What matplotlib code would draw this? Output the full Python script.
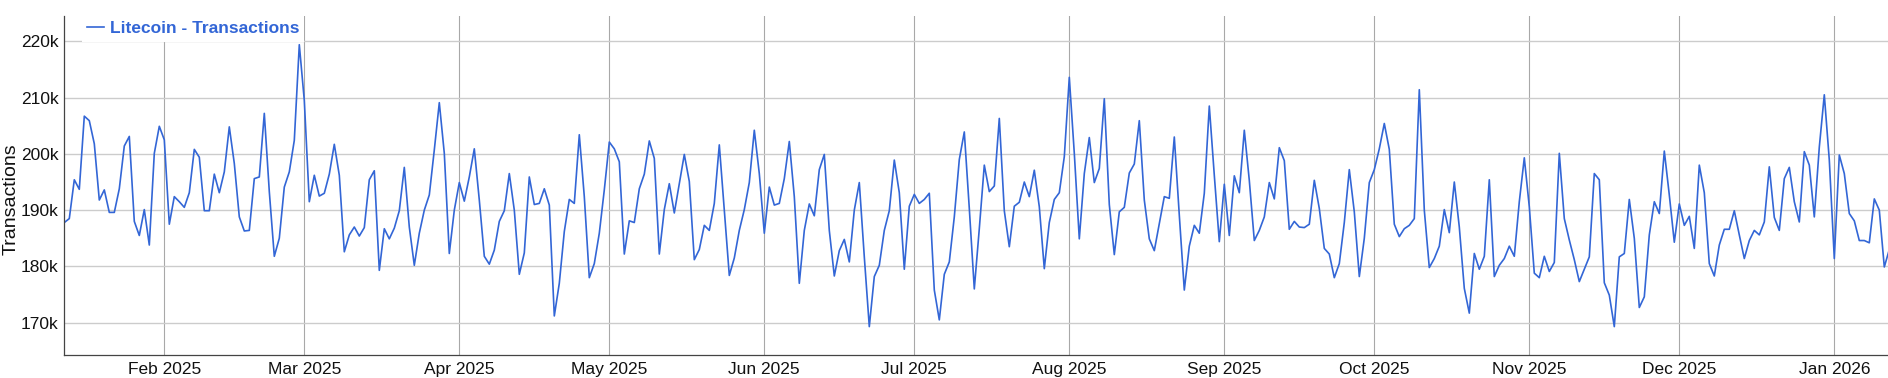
import numpy as np
import pandas as pd
import matplotlib
matplotlib.use("Agg")
import matplotlib.pyplot as plt
import matplotlib.dates as mdates

plt.rcParams['font.family'] = ['Liberation Sans', 'DejaVu Sans']

# daily Litecoin transactions (thousands), 12 Jan 2025 .. 12 Jan 2026
tx_k = [
    187.8, 188.5, 195.4, 193.7, 206.7, 205.9, 201.8, 191.8, 193.6, 189.6,
    189.6, 193.8, 201.4, 203.1, 188.0, 185.5, 190.1, 183.8, 200.1, 204.9,
    202.5, 187.5, 192.4, 191.5, 190.5, 193.1, 200.8, 199.4, 189.9, 189.9,
    196.4, 193.1,
    196.8, 204.8, 198.3, 188.8, 186.3, 186.4, 195.6, 195.9, 207.2, 193.3,
    181.8, 185.0, 194.1, 196.8, 202.4, 219.4, 209.5, 191.5, 196.2, 192.5,
    193.0, 196.4, 201.7, 196.2, 182.6, 185.6, 187.0, 185.4,
    186.9, 195.4, 197.0, 179.3, 186.7, 184.9, 186.8, 189.9, 197.6, 187.0,
    180.2, 185.9, 190.0, 192.7, 200.7, 209.1, 200.1, 182.3, 190.0, 194.9,
    191.6, 195.9, 200.9, 191.8, 181.8, 180.4, 182.9, 188.0, 189.9, 196.5,
    190.0, 178.6, 182.4, 195.9, 191.0, 191.2, 193.8, 190.9, 171.2, 177.0,
    186.2, 191.9, 191.2, 203.4, 192.4, 178.0, 180.5, 185.9, 193.6, 202.1,
    200.9, 198.6, 182.2, 188.1, 187.8, 193.8, 196.4, 202.3, 199.2, 182.2,
    190.1, 194.7, 189.5, 194.7, 199.9, 195.1, 181.2, 183.0, 187.3, 186.4,
    191.2, 201.6, 190.0, 178.4, 181.5, 186.4, 190.1, 194.9, 204.2, 196.5,
    185.9, 194.1, 190.9, 191.2, 195.6, 202.2, 192.4, 177.0, 186.4, 191.1,
    189.0, 197.2, 199.9, 186.4, 178.3, 182.8, 184.8, 180.8, 190.0, 194.9,
    181.7, 169.3, 178.2, 180.2, 186.4, 189.9, 198.9, 193.1, 179.5, 190.7,
    192.8, 191.2, 191.9, 193.0, 175.8, 170.5, 178.6, 180.8, 188.8, 199.0,
    203.9, 190.3, 176.0, 186.7, 198.0, 193.3, 194.3, 206.3, 189.9, 183.5,
    190.7, 191.4, 195.0, 192.4, 197.1, 190.6, 179.6, 187.8, 191.9, 193.1,
    199.5, 213.6, 200.1, 184.9, 196.5, 202.9, 194.9, 197.4, 209.8, 191.0,
    182.1, 189.7, 190.5, 196.6, 198.2, 205.9, 191.8, 184.9, 182.8, 187.6,
    192.4, 192.1, 203.0, 189.1, 175.8, 183.6, 187.3, 185.9, 193.0, 208.5,
    196.2, 184.4, 194.6, 185.5, 196.1, 193.1, 204.2, 195.3, 184.6, 186.4,
    188.8, 194.9, 192.0, 201.1, 198.8, 186.6, 188.0, 187.0, 186.9, 187.5,
    195.3, 190.3, 183.2, 182.2, 178.0, 180.5, 187.8, 197.2, 189.7, 178.2,
    185.0, 194.9, 197.2, 200.9, 205.4, 200.8, 187.5, 185.3, 186.7, 187.3,
    188.5, 211.4, 190.0, 179.8, 181.4, 183.6, 190.1, 186.0, 195.0, 187.0,
    176.1, 171.7, 182.3, 179.5, 181.8, 195.4, 178.2, 180.2, 181.4, 183.6,
    181.8, 191.5, 199.3, 190.6, 178.8, 178.0, 181.8, 179.1, 180.7, 200.1,
    188.5, 184.7, 181.2, 177.3, 179.5, 181.7, 196.5, 195.4, 177.1, 174.9,
    169.3, 181.7, 182.3, 191.9, 185.0, 172.7, 174.6, 185.6, 191.5, 189.4,
    200.5, 192.7, 184.3, 191.1, 187.3, 188.9, 183.2, 198.0, 193.1, 180.5,
    178.3, 183.8, 186.6, 186.6, 189.9, 185.6, 181.4, 184.6, 186.4, 185.6,
    187.9, 197.7, 188.7, 186.4, 195.6, 197.6, 191.5, 187.9, 200.4, 198.0,
    188.8, 201.2, 210.5, 198.9, 181.4, 199.8, 196.5, 189.4, 188.1, 184.6,
    184.6, 184.2, 192.0, 190.0, 179.9, 183.0,
]
dates = pd.date_range("2025-01-12", periods=len(tx_k), freq="D")
transactions = np.array(tx_k) * 1000

y_ticks = [170000, 180000, 190000, 200000, 210000, 220000]
y_tick_labels = ["170k", "180k", "190k", "200k", "210k", "220k"]
month_ticks = pd.date_range("2025-02-01", "2026-01-01", freq="MS")

line_color = "#3366d6"

fig = plt.figure(figsize=(18.88, 3.78), dpi=100)
ax = fig.add_axes([64.3 / 1888, 23 / 378, 1825 / 1888, 339 / 378])

ax.plot(dates, transactions, color=line_color, lw=1.2,
        label="Litecoin - Transactions")

ax.set_xlim(dates[0], dates[-1])
ax.set_ylim(164260, 224500)

ax.set_yticks(y_ticks)
ax.set_yticklabels(y_tick_labels)
ax.set_xticks(month_ticks)
ax.xaxis.set_major_formatter(mdates.DateFormatter("%b %Y"))

ax.tick_params(axis="both", length=0, labelsize=12.5, colors="#111111")
ax.tick_params(axis="y", pad=4)
ax.tick_params(axis="x", pad=5)

ax.yaxis.grid(True, color="#cccccc", lw=1.0)
ax.xaxis.grid(True, color="#a8a8a8", lw=0.8)
ax.set_axisbelow(True)

for side in ["top", "right"]:
    ax.spines[side].set_visible(False)
for side in ["left", "bottom"]:
    ax.spines[side].set_color("#444444")
    ax.spines[side].set_linewidth(0.9)

ax.set_ylabel("Transactions", fontsize=14, color="#111111")
ax.yaxis.set_label_coords(-0.0245, 0.46)

leg = ax.legend(loc="upper left", bbox_to_anchor=(0.0097, 1.0),
                borderaxespad=0, frameon=True, fancybox=False,
                handlelength=0.95, handletextpad=0.35, borderpad=0.3,
                prop={"weight": "bold", "size": 12.5}, labelcolor="linecolor")
leg.get_frame().set_facecolor("white")
leg.get_frame().set_edgecolor("none")
leg.get_frame().set_alpha(1.0)

fig.savefig("out.png", dpi=100)
